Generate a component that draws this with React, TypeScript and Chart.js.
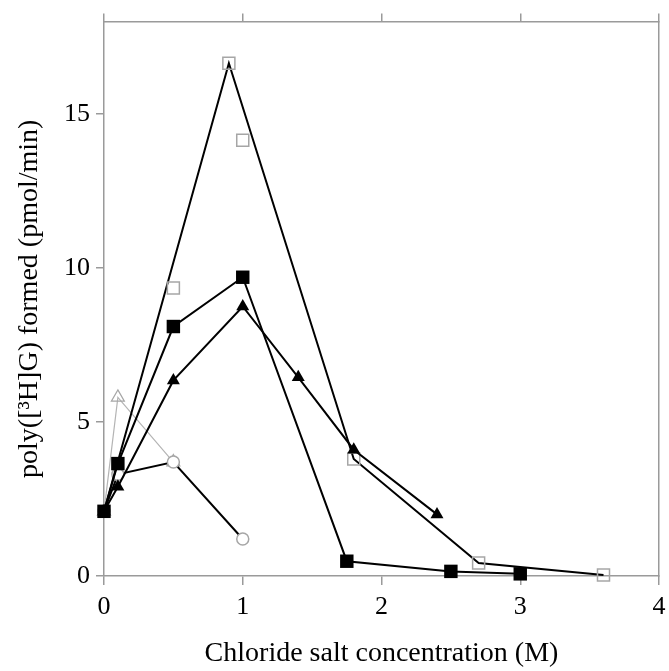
import React, { useEffect, useRef } from "react";
import { Chart, registerables } from "chart.js";

Chart.register(...registerables);

// Salt concentration (M) and poly([3H]G) synthesis rate (pmol/min)
const filledSquareX = [0, 0.1, 0.5, 1.0, 1.75, 2.5, 3.0];
const filledSquareY = [2.1, 3.65, 8.1, 9.7, 0.48, 0.15, 0.07];

const filledTriangleX = [0, 0.1, 0.5, 1.0, 1.4, 1.8, 2.4];
const filledTriangleY = [2.1, 2.9, 6.35, 8.75, 6.45, 4.1, 2.0];

const openSquareX = [0.5, 0.9, 1.0, 1.8, 2.7, 3.6];
const openSquareY = [9.35, 16.65, 14.15, 3.8, 0.42, 0.03];

// connecting line drawn for the open-square series
const openSquareLineX = [0, 0.9, 1.8, 2.7, 3.6];
const openSquareLineY = [2.1, 16.65, 3.8, 0.42, 0.03];

const openCircleX = [0, 0.1, 0.5, 1.0];
const openCircleY = [2.1, 3.3, 3.7, 1.2];

const openTriangleX = [0, 0.1, 0.5];
const openTriangleY = [2.1, 5.8, 3.7];

const xTicks = [0, 1, 2, 3, 4];
const yTicks = [0, 5, 10, 15];

const xTitle = "Chloride salt concentration (M)";
const yTitle = "poly([\u00B3H]G) formed (pmol/min)";

const pts = (xs: number[], ys: number[]) => xs.map((x, i) => ({ x, y: ys[i] }));

const FONT = "'Liberation Serif', 'Times New Roman', serif";
const AXIS_GRAY = "#9a9a9a";
const MARK_GRAY = "#a6a6a6";

const noSidePadding = (s: any) => {
  s.paddingLeft = 0;
  s.paddingRight = 0;
};

export default function App() {
  const ref = useRef<HTMLCanvasElement | null>(null);

  useEffect(() => {
    if (!ref.current) return;
    const tickFont = { family: FONT, size: 26 };
    const titleFont = { family: FONT, size: 28 };

    const chart = new Chart(ref.current, {
      type: "scatter",
      data: {
        datasets: [
          {
            data: pts(filledSquareX, filledSquareY),
            showLine: true,
            borderColor: "#000",
            borderWidth: 2,
            pointStyle: "rect",
            pointRadius: 9.5,
            pointBackgroundColor: "#000",
            pointBorderColor: "#000",
            pointBorderWidth: 0,
            clip: false,
          },
          {
            data: pts(filledTriangleX, filledTriangleY),
            showLine: true,
            borderColor: "#000",
            borderWidth: 2,
            pointStyle: "triangle",
            pointRadius: 7.5,
            pointBackgroundColor: "#000",
            pointBorderColor: "#000",
            pointBorderWidth: 0,
            clip: false,
          },
          {
            data: pts(openSquareX, openSquareY),
            showLine: false,
            pointStyle: "rect",
            pointRadius: 8.5,
            pointBackgroundColor: "rgba(0,0,0,0)",
            pointBorderColor: MARK_GRAY,
            pointBorderWidth: 1.5,
            clip: false,
          },
          {
            data: pts(openSquareLineX, openSquareLineY),
            showLine: true,
            borderColor: "#000",
            borderWidth: 2,
            pointRadius: 0,
            clip: false,
          },
          {
            data: pts(openCircleX, openCircleY),
            showLine: true,
            borderColor: "#000",
            borderWidth: 2,
            pointStyle: "circle",
            pointRadius: 6,
            pointBackgroundColor: "#fff",
            pointBorderColor: MARK_GRAY,
            pointBorderWidth: 1.5,
            clip: false,
          },
          {
            data: pts(openTriangleX, openTriangleY),
            showLine: true,
            borderColor: "#b4b4b4",
            borderWidth: 1.2,
            pointStyle: "triangle",
            pointRadius: 7.5,
            pointBackgroundColor: "rgba(0,0,0,0)",
            pointBorderColor: MARK_GRAY,
            pointBorderWidth: 1.2,
            clip: false,
          },
        ],
      },
      options: {
        animation: false,
        responsive: false,
        events: [],
        layout: { padding: 0 },
        plugins: { legend: { display: false }, tooltip: { enabled: false } },
        elements: { line: { tension: 0 } },
        scales: {
          x: {
            type: "linear",
            position: "bottom",
            min: 0,
            max: 4,
            afterBuildTicks: (s: any) => {
              s.ticks = xTicks.map((v) => ({ value: v }));
            },
            ticks: { font: tickFont, color: "#000", padding: 7, maxRotation: 0 },
            grid: { drawOnChartArea: false, drawTicks: true, tickLength: 9, color: AXIS_GRAY, lineWidth: 1.5 },
            border: { color: AXIS_GRAY, width: 1.5 },
            title: { display: true, text: xTitle, font: titleFont, color: "#000", padding: { top: 0, bottom: 1 } },
            afterFit: (s: any) => {
              s.height = 95;
              noSidePadding(s);
            },
          },
          xTop: {
            type: "linear",
            position: "top",
            min: 0,
            max: 4,
            afterBuildTicks: (s: any) => {
              s.ticks = xTicks.map((v) => ({ value: v }));
            },
            ticks: { display: false },
            grid: { drawOnChartArea: false, drawTicks: true, tickLength: 8, color: AXIS_GRAY, lineWidth: 1.5 },
            border: { color: AXIS_GRAY, width: 1.5 },
            afterFit: (s: any) => {
              s.height = 19;
              noSidePadding(s);
            },
          },
          y: {
            type: "linear",
            position: "left",
            min: 0,
            max: 18,
            afterBuildTicks: (s: any) => {
              s.ticks = yTicks.map((v) => ({ value: v }));
            },
            ticks: { font: tickFont, color: "#000", padding: 6 },
            grid: { drawOnChartArea: false, drawTicks: true, tickLength: 8, color: AXIS_GRAY, lineWidth: 1.5 },
            border: { color: AXIS_GRAY, width: 1.5 },
            title: { display: true, text: yTitle, font: titleFont, color: "#000", padding: { top: 13, bottom: 0 } },
            afterFit: (s: any) => {
              s.width = 104;
            },
          },
          yRight: {
            type: "linear",
            position: "right",
            min: 0,
            max: 18,
            ticks: { display: false },
            grid: { display: false },
            border: { display: true, color: AXIS_GRAY, width: 1.5 },
            afterFit: (s: any) => {
              s.width = 8;
            },
          },
        },
      } as any,
    });
    return () => chart.destroy();
  }, []);

  return (
    <div style={{ position: "absolute", left: 0, top: 0, width: 669, height: 671, background: "#fff" }}>
      <canvas ref={ref} width={669} height={671} style={{ display: "block" }} />
    </div>
  );
}
